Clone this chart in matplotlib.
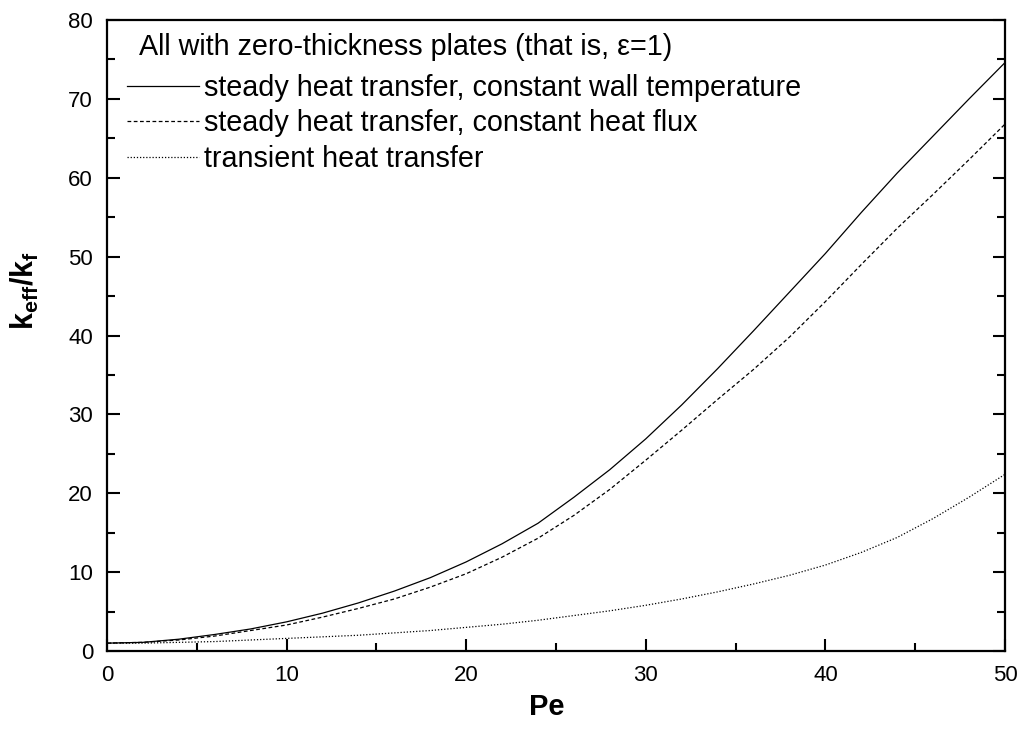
import matplotlib
matplotlib.use("Agg")
import matplotlib.pyplot as plt
from matplotlib.ticker import MultipleLocator

plt.rcParams['font.family'] = ['Liberation Sans', 'DejaVu Sans']
plt.rcParams['mathtext.fontset'] = 'custom'
plt.rcParams['mathtext.rm'] = 'Liberation Sans'
plt.rcParams['mathtext.bf'] = 'Liberation Sans:bold'
plt.rcParams['mathtext.it'] = 'Liberation Sans:italic'

# Peclet number samples
pe = [0, 2, 4, 6, 8, 10, 12, 14, 16, 18, 20, 22, 24, 26, 28, 30,
      32, 34, 36, 38, 40, 42, 44, 46, 48, 50]
# steady, constant wall temperature
k_wall = [1.0, 1.1, 1.5, 2.1, 2.8, 3.7, 4.8, 6.1, 7.6, 9.3, 11.3, 13.6, 16.2,
          19.5, 23.0, 26.9, 31.2, 35.8, 40.6, 45.5, 50.4, 55.6, 60.6, 65.3,
          70.0, 74.6]
# steady, constant heat flux
k_flux = [1.0, 1.1, 1.4, 1.9, 2.6, 3.3, 4.3, 5.4, 6.6, 8.1, 9.8, 11.9, 14.3,
          17.2, 20.5, 24.2, 28.0, 31.9, 35.7, 39.8, 44.3, 49.0, 53.6, 57.9,
          62.3, 66.8]
# transient
k_trans = [1.0, 1.0, 1.1, 1.2, 1.4, 1.6, 1.8, 2.0, 2.3, 2.6, 3.0, 3.4, 3.9,
           4.5, 5.1, 5.8, 6.6, 7.5, 8.5, 9.6, 10.9, 12.5, 14.4, 16.8, 19.5,
           22.4]

labels = ["steady heat transfer, constant wall temperature",
          "steady heat transfer, constant heat flux",
          "transient heat transfer"]
legend_title = "All with zero-thickness plates (that is, ε=1)"

fig = plt.figure(figsize=(10.21, 7.31), dpi=100)
ax = fig.add_axes([0.1048, 0.1094, 0.8795, 0.8632])

ax.plot(pe, k_wall, color='black', lw=0.9, ls='-', label=labels[0])
ax.plot(pe, k_flux, color='black', lw=0.9, ls=(0, (3, 2)), label=labels[1])
ax.plot(pe, k_trans, color='black', lw=0.9, ls=(0, (1, 1.5)), label=labels[2])

ax.set_xlim(0, 50)
ax.set_ylim(0, 80)
ax.xaxis.set_major_locator(MultipleLocator(10))
ax.xaxis.set_minor_locator(MultipleLocator(5))
ax.yaxis.set_major_locator(MultipleLocator(10))
ax.yaxis.set_minor_locator(MultipleLocator(5))
ax.tick_params(which='both', direction='in', right=True, top=False,
               labelsize=16, width=1.5)
ax.tick_params(which='major', length=9, pad=10)
ax.tick_params(which='minor', length=5.5)
for s in ax.spines.values():
    s.set_linewidth(1.6)

ax.set_xlabel('Pe', fontsize=21, fontweight='bold')
ax.xaxis.set_label_coords(0.49, -0.066)
ax.set_ylabel(r'$\mathbf{k_{eff}/k_f}$', fontsize=22)
ax.yaxis.set_label_coords(-0.074, 0.572)

# title line of the key, then the three entries
ax.text(0.036, 0.957, legend_title, transform=ax.transAxes,
        fontsize=20.7, ha='left', va='center')
ax.legend(loc='upper left', bbox_to_anchor=(0.022, 0.914),
          frameon=False, fontsize=20.7,
          handlelength=2.5, handletextpad=0.2, labelspacing=0.25,
          borderaxespad=0, borderpad=0)

fig.savefig('out.png', dpi=100)
